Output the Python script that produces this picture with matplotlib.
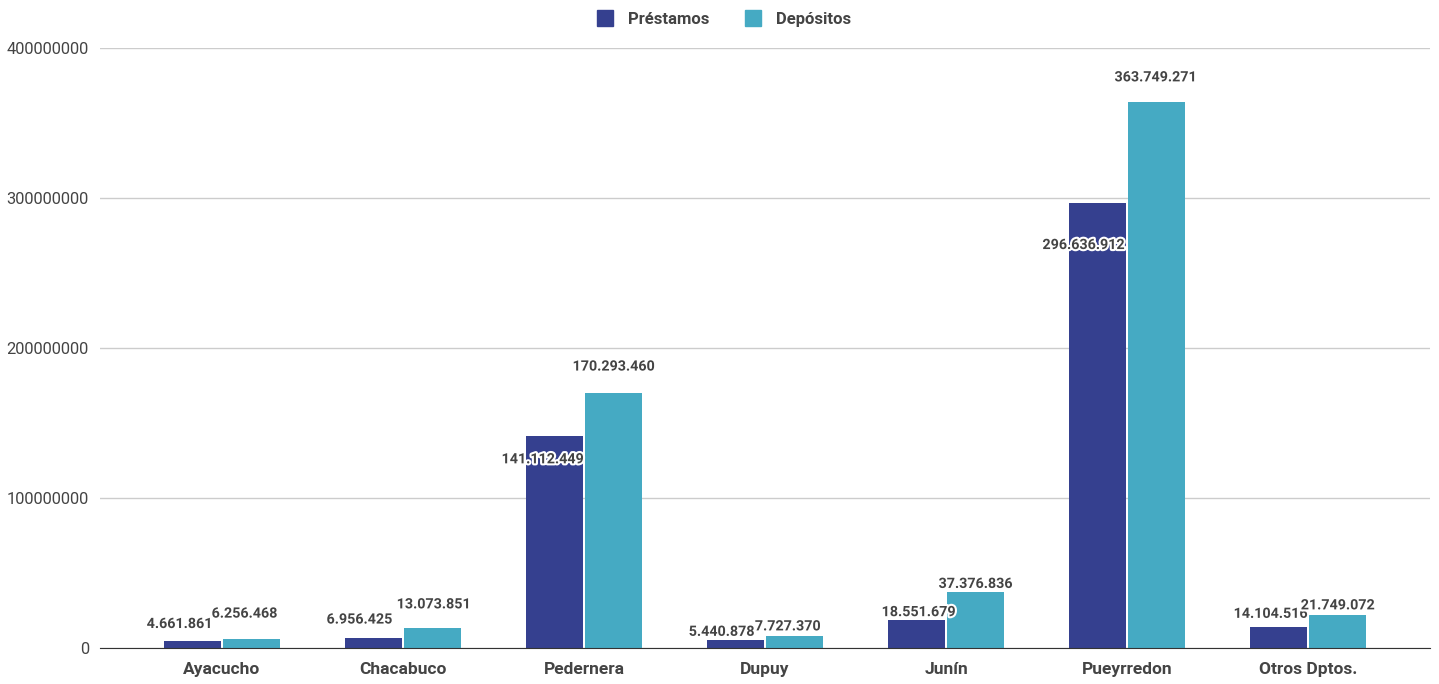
import numpy as np
import matplotlib
matplotlib.use("Agg")
import matplotlib.pyplot as plt
import matplotlib.patheffects as pe
from matplotlib.lines import Line2D

plt.rcParams['font.family'] = ['Roboto', 'DejaVu Sans']

deptos = ["Ayacucho", "Chacabuco", "Pedernera", "Dupuy", "Junín", "Pueyrredon", "Otros Dptos."]
prestamos = [4661861, 6956425, 141112449, 5440878, 18551679, 296636912, 14104516]
depositos = [6256468, 13073851, 170293460, 7727370, 37376836, 363749271, 21749072]

# label offsets (pixels) from bar top, as placed in the original
off_p = [(-13, 17), (-14, 18), (-12, -23), (-14, 8), (2, 8), (-14, -42), (-8, 13)]
off_d = [(-7, 25), (1, 24), (0, 26), (-7, 10), (0, 8), (-1, 25), (0, 10)]

c_p = "#35408f"
c_d = "#45aac3"
txt = "#444444"

def fmt(v):
    return f"{v:,}".replace(",", ".")

fig = plt.figure(figsize=(14.39, 6.84), dpi=100)
ax = fig.add_axes([100/1439, 36/684, 1330/1439, 600/684])

x = np.arange(len(deptos))
w = 0.31
sh = 0.163
b1 = ax.bar(x - sh, prestamos, w, color=c_p, zorder=3)
b2 = ax.bar(x + sh, depositos, w, color=c_d, zorder=3)

halo = [pe.withStroke(linewidth=3, foreground="white")]
for bars, vals, offs in [(b1, prestamos, off_p), (b2, depositos, off_d)]:
    for b, v, o in zip(bars, vals, offs):
        ax.annotate(fmt(v), (b.get_x() + b.get_width()/2, v), xytext=o,
                    textcoords="offset pixels", ha="center", va="center",
                    fontsize=10.3, fontweight="bold", color=txt,
                    path_effects=halo, zorder=5)

ax.set_ylim(0, 400000000)
ax.set_yticks([0, 100000000, 200000000, 300000000, 400000000])
ax.set_yticklabels(["0", "100000000", "200000000", "300000000", "400000000"])
ax.set_xlim(-0.674, 6.674)
ax.set_xticks(x)
ax.set_xticklabels(deptos, fontweight="bold", fontsize=12.5, color=txt)
ax.tick_params(axis="x", length=0, pad=10)
ax.tick_params(axis="y", length=0, pad=8, labelsize=11.8, labelcolor=txt)
ax.grid(axis="y", color="#cccccc", linewidth=1, zorder=0)
for s in ["top", "right", "left"]:
    ax.spines[s].set_visible(False)
ax.spines["bottom"].set_color("#333333")
ax.spines["bottom"].set_zorder(4)

handles = [Line2D([], [], marker="s", linestyle="", markersize=12, color=c_p),
           Line2D([], [], marker="s", linestyle="", markersize=12, color=c_d)]
leg = fig.legend(handles, ["Préstamos", "Depósitos"], loc="upper center",
                 bbox_to_anchor=(0.5, 1.005), ncol=2, frameon=False,
                 handletextpad=0.4, columnspacing=1.6,
                 prop={"weight": "bold", "size": 12})
for t in leg.get_texts():
    t.set_color(txt)

fig.savefig("out.png", dpi=100)
